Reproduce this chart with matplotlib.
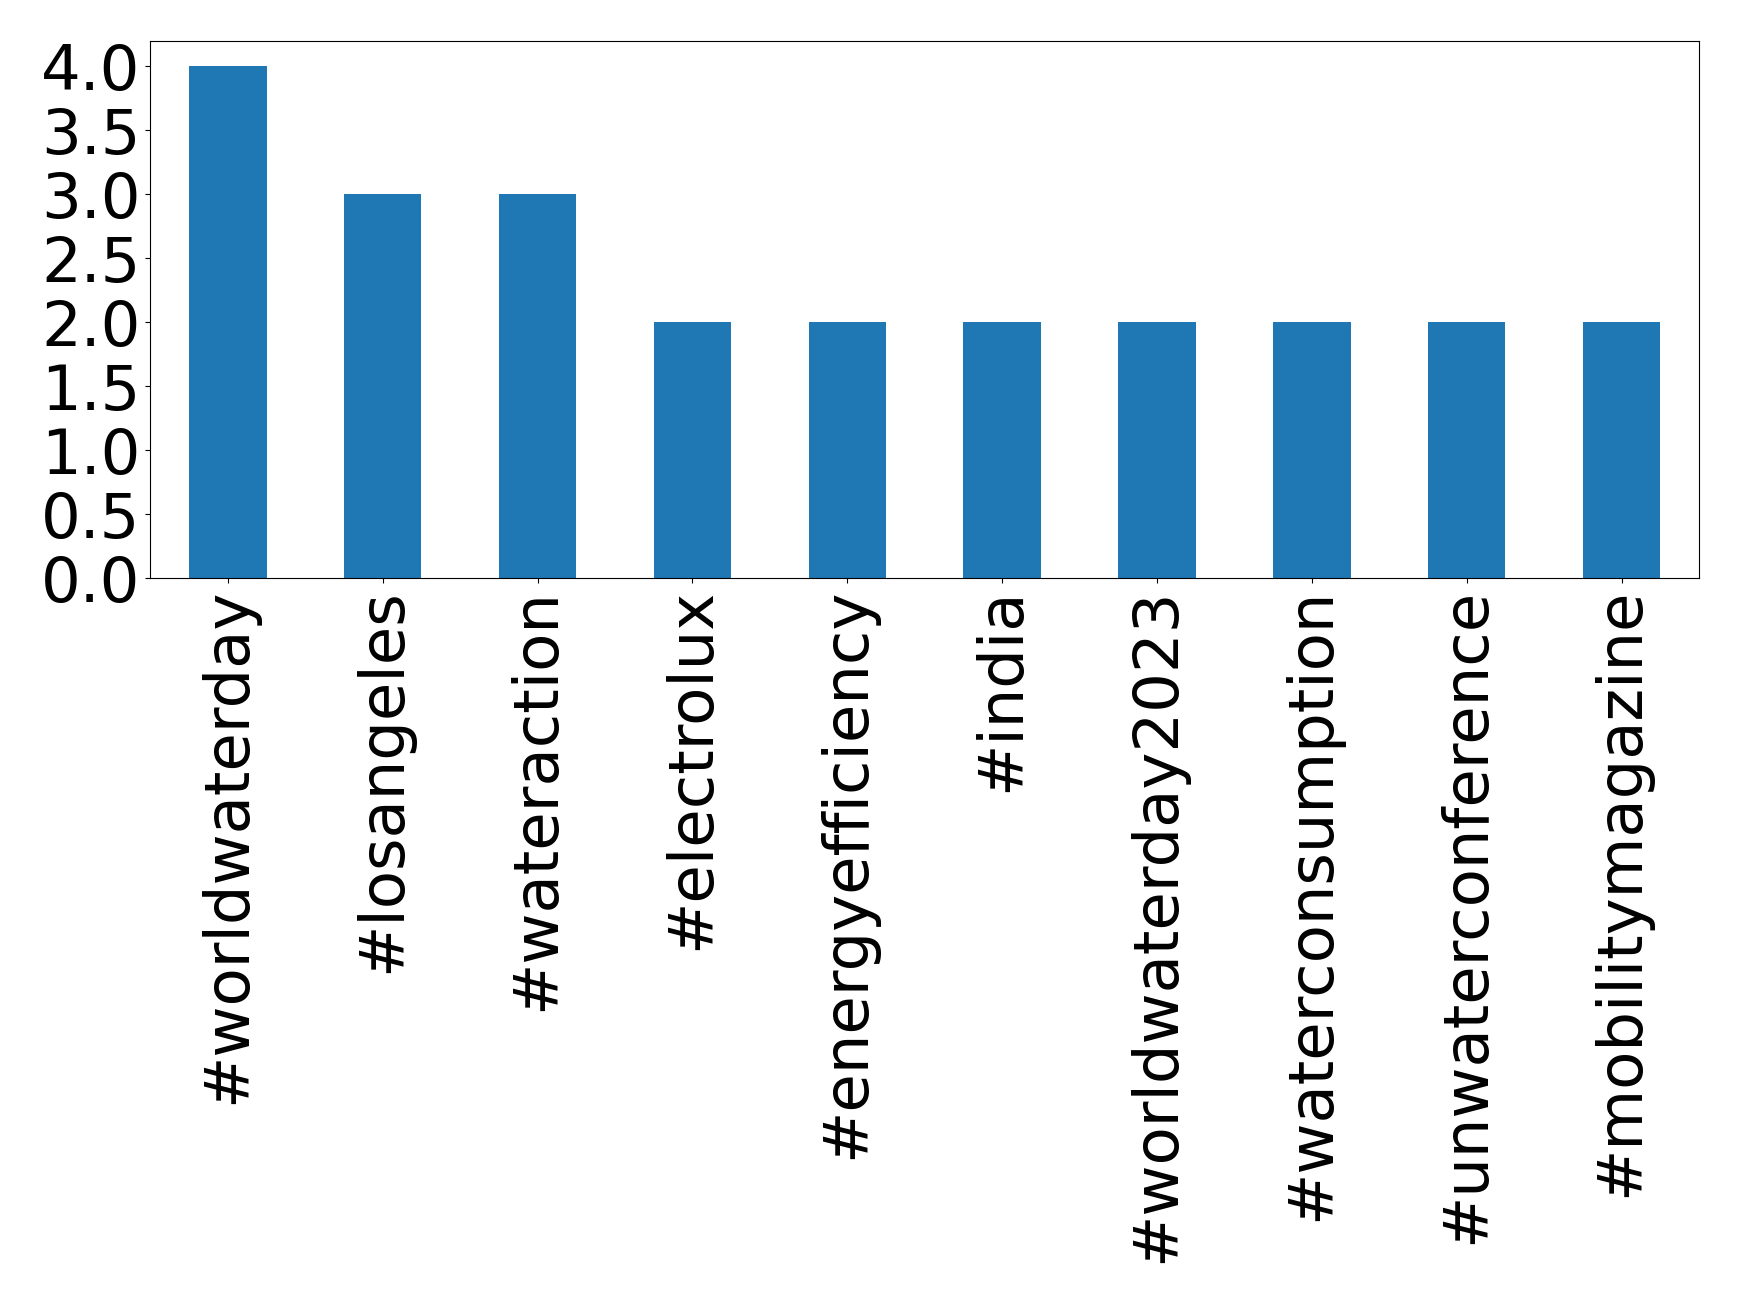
import matplotlib
matplotlib.use('Agg')
import matplotlib.pyplot as plt

# hashtag counts
hashtags = ['#worldwaterday', '#losangeles', '#wateraction', '#electrolux',
            '#energyefficiency', '#india', '#worldwaterday2023',
            '#waterconsumption', '#unwaterconference', '#mobilitymagazine']
counts = [4, 3, 3, 2, 2, 2, 2, 2, 2, 2]

fig = plt.figure(figsize=(17.39, 13.04), dpi=100)
ax = fig.add_axes([0.0865, 0.5566, 0.8905, 0.4123])

x = range(len(hashtags))
ax.bar(x, counts, width=0.5, color='#1f77b4')
ax.set_xlim(-0.5, len(hashtags) - 0.5)
ax.set_ylim(0, 4.2)
ax.set_yticks([0.0, 0.5, 1.0, 1.5, 2.0, 2.5, 3.0, 3.5, 4.0])
ax.set_xticks(list(x))
ax.set_xticklabels(hashtags, rotation=90)
ax.tick_params(axis='both', labelsize=45)

fig.savefig('out.png', dpi=100)
